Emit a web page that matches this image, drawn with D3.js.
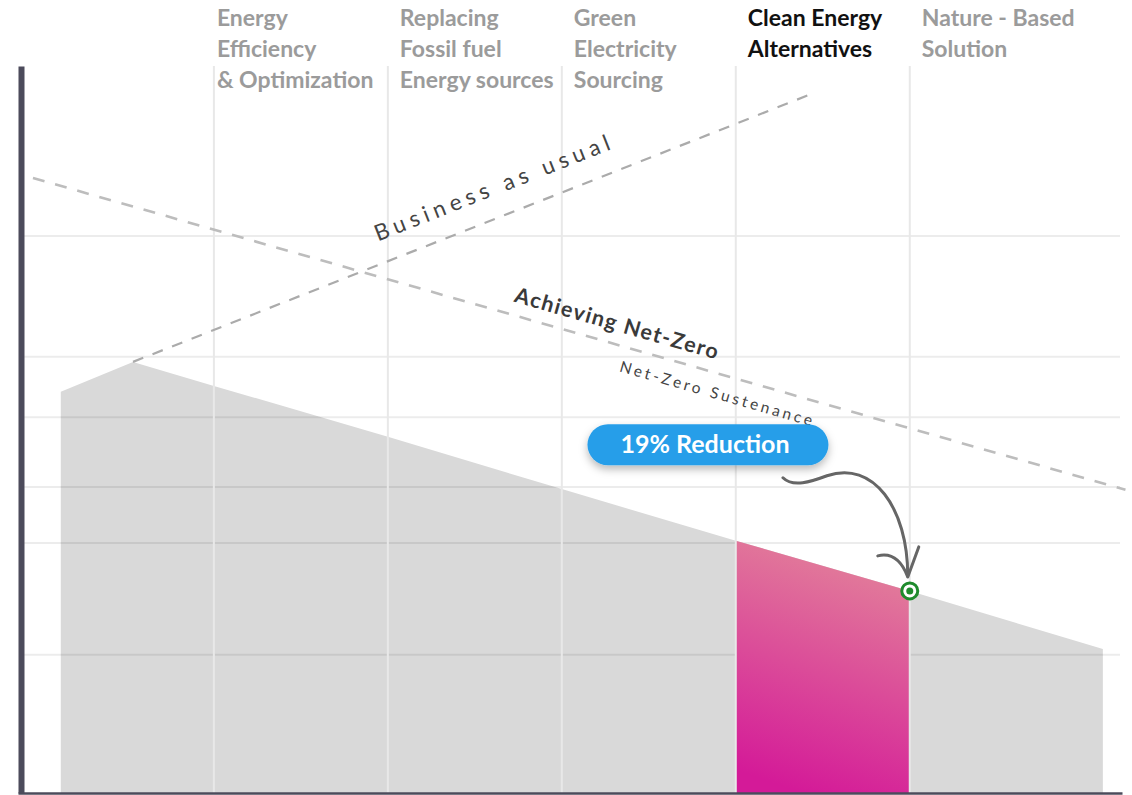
<!DOCTYPE html>
<html>
<head>
<meta charset="utf-8">
<script src="https://cdn.jsdelivr.net/npm/d3@7"></script>
<style>
  html, body { margin: 0; padding: 0; background: #ffffff; }
  svg { display: block; font-family: Lato, "Noto Sans", sans-serif; }
</style>
</head>
<body>
<svg id="chart" width="1132" height="795"></svg>
<script>
// ---------------- DATA ----------------
const categories = [
  ["Energy", "Efficiency", "& Optimization"],
  ["Replacing", "Fossil fuel", "Energy sources"],
  ["Green", "Electricity", "Sourcing"],
  ["Clean Energy", "Alternatives"],
  ["Nature - Based", "Solution"]
];
const highlightedCategory = 3;
const stageBoundaries = [1, 2, 3, 4, 5];           // vertical gridlines (stage units)
const gridValues = [76.6, 60.0, 51.7, 42.1, 34.4, 19.0]; // horizontal gridlines
// emissions trajectory (gray area): stage position / value
const emissionX = [0.12, 0.535, 1, 2, 3, 4, 5, 6.11];
const emissionY = [55.2, 59.3, 56.0, 49.0, 41.8, 34.7, 27.8, 19.8];
// business as usual dashed line
const bauX = [0.535, 4.45];
const bauY = [59.3, 96.3];
// achieving net-zero dashed line
const netZeroX = [-0.04, 6.24];
const netZeroY = [84.6, 41.7];
// highlighted segment and callout
const highlightRange = [4, 5];
const reductionLabel = "19% Reduction";
const calloutAt = [3.84, 47.9];

// ---------------- SCALES ----------------
const svg = d3.select("#chart");
const x = d3.scaleLinear().domain([-0.126, 6.22]).range([18, 1122]);
const y = d3.scaleLinear().domain([0, 100]).range([793, 66]);

const defs = svg.append("defs");
const grad = defs.append("linearGradient").attr("id", "pinkGrad")
  .attr("x1", 0.62).attr("y1", 0).attr("x2", 0.38).attr("y2", 1);
grad.append("stop").attr("offset", "0%").attr("stop-color", "#e3839a");
grad.append("stop").attr("offset", "100%").attr("stop-color", "#d41a98");

const shadow = defs.append("filter").attr("id", "shadow")
  .attr("x", "-20%").attr("y", "-40%").attr("width", "140%").attr("height", "200%");
shadow.append("feDropShadow").attr("dx", 0).attr("dy", 4).attr("stdDeviation", 4)
  .attr("flood-color", "#000").attr("flood-opacity", 0.28);

const emission = emissionX.map((d, i) => ({ x: d, y: emissionY[i] }));
const valueAt = xv => {
  for (let i = 0; i < emission.length - 1; i++) {
    const a = emission[i], b = emission[i + 1];
    if (xv >= a.x && xv <= b.x) return a.y + (b.y - a.y) * (xv - a.x) / (b.x - a.x);
  }
  return emission[emission.length - 1].y;
};

// gray area
const area = d3.area().x(d => x(d.x)).y0(y(0)).y1(d => y(d.y));
svg.append("path").datum(emission).attr("d", area).attr("fill", "#d9d9d9");

// horizontal gridlines
svg.append("g").selectAll("line").data(gridValues).join("line")
  .attr("x1", 24).attr("x2", 1120)
  .attr("y1", d => y(d)).attr("y2", d => y(d))
  .attr("stroke", "rgba(0,0,0,0.075)").attr("stroke-width", 2);

// highlighted pink segment
const seg = emission.filter(d => d.x >= highlightRange[0] && d.x <= highlightRange[1]);
svg.append("path").datum(seg).attr("d", area).attr("fill", "url(#pinkGrad)");

// vertical gridlines
svg.append("g").selectAll("line").data(stageBoundaries).join("line")
  .attr("x1", d => x(d)).attr("x2", d => x(d))
  .attr("y1", y(100)).attr("y2", y(0))
  .attr("stroke", "#e8e8e8").attr("stroke-width", 2);

// dashed lines
const line = d3.line().x(d => x(d.x)).y(d => y(d.y));
const bau = bauX.map((d, i) => ({ x: d, y: bauY[i] }));
const nz = netZeroX.map((d, i) => ({ x: d, y: netZeroY[i] }));
svg.append("path").datum(bau).attr("d", line).attr("fill", "none")
  .attr("stroke", "#ababab").attr("stroke-width", 2.2).attr("stroke-dasharray", "11,10");
svg.append("path").datum(nz).attr("d", line).attr("fill", "none")
  .attr("stroke", "#bdbdbd").attr("stroke-width", 2.6).attr("stroke-dasharray", "12,11");

// axes
svg.append("g").attr("transform", `translate(${x(-0.126) + 3},0)`)
  .call(d3.axisLeft(y).tickValues([]).tickSizeOuter(0))
  .call(g => g.select(".domain").attr("stroke", "#4c4b5b").attr("stroke-width", 6));
svg.append("g").attr("transform", `translate(0,${y(0)})`)
  .call(d3.axisBottom(x).tickValues([]).tickSizeOuter(0))
  .call(g => g.select(".domain").attr("stroke", "#4c4b5b").attr("stroke-width", 2.5));

// category labels (placed just right of each stage boundary)
const labelPad = i => i === 0 ? 3 : 12;
const lab = svg.append("g").selectAll("text").data(categories).join("text")
  .attr("x", (d, i) => x(stageBoundaries[i]) + labelPad(i)).attr("y", 26)
  .attr("font-size", 23).attr("font-weight", 700)
  .attr("fill", (d, i) => i === highlightedCategory ? "#111111" : "#9b9b9b");
lab.selectAll("tspan").data(d => d).join("tspan")
  .attr("x", function () { return this.parentNode.getAttribute("x"); })
  .attr("dy", (d, i) => i === 0 ? 0 : 31).text(d => d);

// rotated line labels
function lineLabel(pts, u, offset, text, size, weight, spacing, color) {
  const p0 = pts[0], p1 = pts[1];
  const ang = Math.atan2(y(p1.y) - y(p0.y), x(p1.x) - x(p0.x)) * 180 / Math.PI;
  const v = p0.y + (p1.y - p0.y) * (u - p0.x) / (p1.x - p0.x);
  svg.append("text")
    .attr("transform", `translate(${x(u)},${y(v)}) rotate(${ang})`)
    .attr("y", offset)
    .attr("font-size", size).attr("font-weight", weight)
    .attr("letter-spacing", spacing).attr("fill", color)
    .text(text);
}
lineLabel(bau, 1.99, -22, "Business as usual", 22.5, 400, 5.1, "#444444");
lineLabel(nz, 2.7, -13, "Achieving Net-Zero", 21.5, 700, 1.4, "#3a3a3a");
lineLabel(nz, 3.366, 25, "Net-Zero Sustenance", 15.5, 400, 3.1, "#444444");

// callout pill
const cx = x(calloutAt[0]), cy = y(calloutAt[1]);
const pill = svg.append("g").attr("transform", `translate(${cx},${cy})`);
pill.append("rect").attr("x", -120.5).attr("y", -20.5).attr("width", 241).attr("height", 41)
  .attr("rx", 20.5).attr("fill", "#279ee9").attr("filter", "url(#shadow)");
pill.append("text").attr("text-anchor", "middle").attr("x", -3).attr("y", 8.5)
  .attr("font-size", 25).attr("font-weight", 700).attr("fill", "#ffffff")
  .text(reductionLabel);

// marker point
const mx = x(highlightRange[1]), my = y(valueAt(highlightRange[1]));

// curved arrow from pill to marker
const sx = cx + 75, sy = cy + 33;
svg.append("path")
  .attr("d", `M${sx},${sy} C${sx + 10},${sy + 10} ${sx + 28},${sy + 4} ${sx + 44},${sy - 2}` +
             ` C${sx + 90},${sy - 18} ${mx - 2},${sy + 30} ${mx - 2},${my - 15}`)
  .attr("fill", "none").attr("stroke", "#666666").attr("stroke-width", 3).attr("stroke-linecap", "round");
svg.append("path")
  .attr("d", `M${mx - 32},${my - 35} Q${mx - 12},${my - 40} ${mx - 2},${my - 14} M${mx + 9},${my - 44} L${mx - 2},${my - 14}`)
  .attr("fill", "none").attr("stroke", "#666666").attr("stroke-width", 3).attr("stroke-linecap", "round");

svg.append("circle").attr("cx", mx).attr("cy", my).attr("r", 8)
  .attr("fill", "#ffffff").attr("stroke", "#1f8b2d").attr("stroke-width", 3);
svg.append("circle").attr("cx", mx).attr("cy", my).attr("r", 3.5).attr("fill", "#1f8b2d");
</script>
</body>
</html>
